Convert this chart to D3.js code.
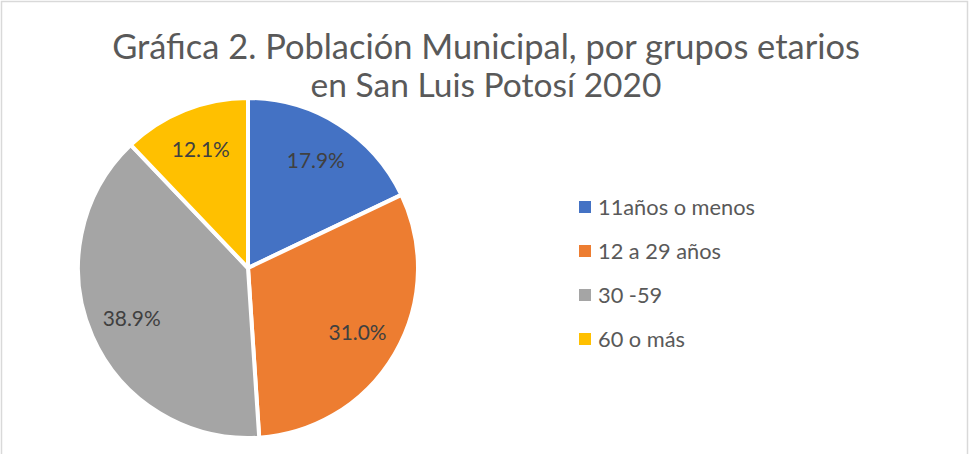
<!DOCTYPE html>
<html>
<head>
<meta charset="utf-8">
<script src="https://cdn.jsdelivr.net/npm/d3@7"></script>
<style>
  html, body { margin: 0; padding: 0; background: #fff; }
  svg { display: block; }
  text { font-family: "Lato", "Open Sans", sans-serif; }
</style>
</head>
<body>
<svg id="chart" width="969" height="454"></svg>
<script>
const titleLines = ["Gráfica 2. Población Municipal, por grupos etarios", "en San Luis Potosí 2020"];
const categories = ["11años o menos", "12 a 29 años", "30 -59", "60 o más"];
const values = [17.9, 31.0, 38.9, 12.1];
const colors = ["#4472C4", "#ED7D31", "#A5A5A5", "#FFC000"];

const W = 969, H = 454;
const svg = d3.select("#chart");

// border
svg.append("rect").attr("x", 1.5).attr("y", 1.5).attr("width", 966).attr("height", 470)
  .attr("fill", "#fff").attr("stroke", "#d9d9d9").attr("stroke-width", 1.5);

function fitWidth(sel, target) {
  const node = sel.node();
  const base = parseFloat(sel.attr("font-size"));
  const w = node.getComputedTextLength();
  sel.attr("font-size", (base * target / w).toFixed(2));
}

// title
const titleBaselines = [59, 97];
const titleWidths = [748, 351];
titleLines.forEach((t, i) => {
  const el = svg.append("text").attr("x", 486).attr("y", titleBaselines[i])
    .attr("text-anchor", "middle").attr("fill", "#595959").attr("font-size", 30).text(t);
  fitWidth(el, titleWidths[i]);
});

// pie
const cx = 248, cy = 268, R = 170;
const pie = d3.pie().sort(null).value(d => d)(values);
const arc = d3.arc().innerRadius(0).outerRadius(R);
const labelArc = d3.arc().innerRadius(127).outerRadius(127);
const g = svg.append("g").attr("transform", `translate(${cx},${cy})`);
g.selectAll("path").data(pie).join("path")
  .attr("d", arc).attr("fill", (d, i) => colors[i])
  .attr("stroke", "#fff").attr("stroke-width", 4).attr("stroke-linejoin", "round");

const labels = g.selectAll("text.lbl").data(pie).join("text")
  .attr("class", "lbl")
  .attr("transform", d => `translate(${labelArc.centroid(d)})`)
  .attr("text-anchor", "middle").attr("dy", "0.35em")
  .attr("fill", "#404040").attr("font-size", 20)
  .text(d => d.data.toFixed(1) + "%");
const lblEl = labels.filter((d, i) => i === 0);
const lblBase = 20, lblW = lblEl.node().getComputedTextLength();
labels.attr("font-size", (lblBase * 58 / lblW).toFixed(2));

// legend
const lg = svg.append("g");
const rows = lg.selectAll("g").data(categories).join("g")
  .attr("transform", (d, i) => `translate(579, ${207 + i * 44})`);
rows.append("rect").attr("x", 0).attr("y", -6).attr("width", 12).attr("height", 12)
  .attr("fill", (d, i) => colors[i]);
const ltext = rows.append("text").attr("x", 19).attr("y", 0).attr("dy", "0.36em")
  .attr("fill", "#595959").attr("font-size", 18).text(d => d);
const l0 = ltext.filter((d, i) => i === 0).node().getComputedTextLength();
ltext.attr("font-size", (18 * 157 / l0).toFixed(2));
</script>
</body>
</html>
